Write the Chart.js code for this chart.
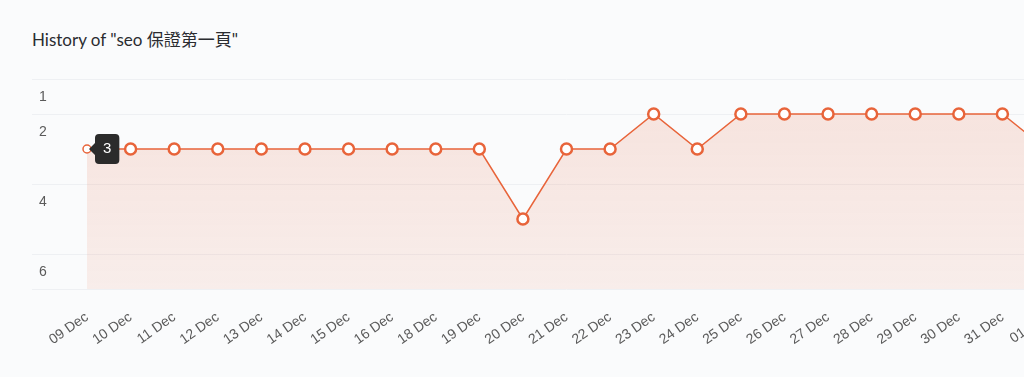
<!DOCTYPE html>
<html>
<head>
<meta charset="utf-8">
<script src="https://cdn.jsdelivr.net/npm/chart.js@4.4.1/dist/chart.umd.min.js"></script>
<style>
  html, body { margin: 0; padding: 0; background: #fafbfc; overflow: hidden; width: 1024px; height: 377px; }
  #wrap { position: relative; width: 1080px; height: 377px; }
  #title { position: absolute; left: 32px; top: 26px; font: 17px Lato, "Noto Sans CJK TC", sans-serif; color: #2a2c30; white-space: nowrap; }
  canvas { position: absolute; left: 0; top: 0; }
</style>
</head>
<body>
<div id="wrap">
  <div id="title">History of "seo 保證第一頁"</div>
  <canvas id="historyChart" width="1080" height="377"></canvas>
</div>
<script>
// ranking history, one point per day (17 Dec missing)
const dates = ["09 Dec", "10 Dec", "11 Dec", "12 Dec", "13 Dec", "14 Dec", "15 Dec", "16 Dec",
  "18 Dec", "19 Dec", "20 Dec", "21 Dec", "22 Dec", "23 Dec", "24 Dec", "25 Dec", "26 Dec",
  "27 Dec", "28 Dec", "29 Dec", "30 Dec", "31 Dec", "01 Jan"];
const positions = [3, 3, 3, 3, 3, 3, 3, 3, 3, 3, 5, 3, 3, 2, 3, 2, 2, 2, 2, 2, 2, 2, 3];
const yTicks = [1, 2, 4, 6];
const yMin = 1;
const yMax = 7;

const lineColor = "#e8643a";
const ctx = document.getElementById("historyChart").getContext("2d");

const chart = new Chart(ctx, {
  type: "line",
  data: {
    labels: dates,
    datasets: [{
      data: positions,
      borderColor: lineColor,
      borderWidth: 1.5,
      tension: 0,
      fill: { value: yMax },
      backgroundColor: (c) => {
        const area = c.chart.chartArea;
        if (!area) return "rgba(232,100,58,0.14)";
        const g = c.chart.ctx.createLinearGradient(0, area.top, 0, area.bottom);
        g.addColorStop(0, "rgba(232,100,58,0.16)");
        g.addColorStop(1, "rgba(232,100,58,0.09)");
        return g;
      },
      pointBackgroundColor: "#fff",
      pointBorderColor: lineColor,
      pointRadius: (c) => c.dataIndex === 0 ? 4 : 5.5,
      pointBorderWidth: (c) => c.dataIndex === 0 ? 1.5 : 2.5,
      pointHoverRadius: (c) => c.dataIndex === 0 ? 4 : 5.5
    }]
  },
  options: {
    responsive: false,
    animation: false,
    events: [],
    layout: { padding: { left: 39, right: 34, top: 79, bottom: 0 } },
    plugins: {
      legend: { display: false },
      tooltip: {
        displayColors: false,
        backgroundColor: "#2b2b2b",
        bodyColor: "#fff",
        bodyFont: { size: 15, family: "'Liberation Sans', Arial, sans-serif" },
        padding: { left: 8, right: 8, top: 6, bottom: 6 },
        cornerRadius: 4,
        caretSize: 6,
        caretPadding: 2,
        xAlign: "left",
        yAlign: "center",
        callbacks: {
          title: () => "",
          label: (c) => String(c.parsed.y)
        }
      }
    },
    scales: {
      x: {
        grid: { display: false },
        border: { display: false },
        ticks: {
          autoSkip: false,
          minRotation: 35,
          maxRotation: 35,
          padding: 12,
          color: "#5a5a5a",
          font: { size: 14, family: "'Liberation Sans', Arial, sans-serif" }
        },
        afterFit: (s) => { s.height = 88; }
      },
      y: {
        reverse: true,
        min: yMin,
        max: yMax,
        afterBuildTicks: (s) => { s.ticks = yTicks.concat([yMax]).map((v) => ({ value: v })); },
        afterFit: (s) => { s.width = 48; },
        grid: { color: "#eef0f3", tickColor: "#eef0f3", tickLength: 55 },
        border: { display: false },
        ticks: {
          crossAlign: "far",
          labelOffset: 18,
          color: "#5a5a5a",
          font: { size: 14, family: "'Liberation Sans', Arial, sans-serif" },
          callback: (v) => v === yMax ? "" : v
        }
      }
    }
  }
});

// the reference shows the tooltip open on the first point
chart.tooltip.setActiveElements([{ datasetIndex: 0, index: 0 }], { x: 0, y: 0 });
chart.update();
</script>
</body>
</html>
